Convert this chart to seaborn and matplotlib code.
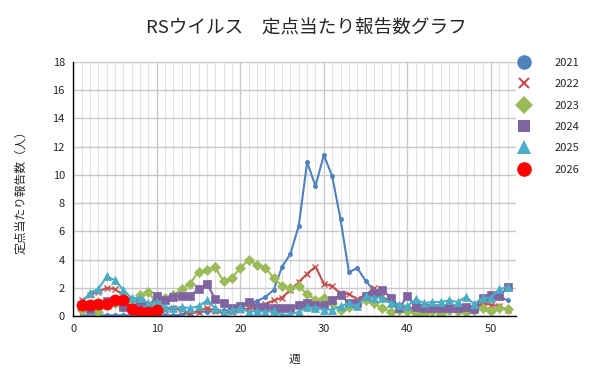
import numpy as np
import pandas as pd
import matplotlib
matplotlib.use('Agg')
import matplotlib.pyplot as plt
from matplotlib.lines import Line2D
from matplotlib.ticker import MultipleLocator
import seaborn as sns

weeks = list(range(1, 53))
weeks_2026 = list(range(1, 11))

y2021 = [0.05, 0.05, 0.05, 0.05, 0.05, 0.05, 0.05, 0.05, 0.05, 0.05, 0.05, 0.05, 0.1, 0.2, 0.3, 0.3,
         0.35, 0.4, 0.4, 0.7, 0.9, 1.05, 1.35, 1.85, 3.5, 4.4, 6.4, 10.9, 9.2, 11.4, 9.9, 6.85,
         3.1, 3.4, 2.5, 1.8, 1.3, 1.1, 0.8, 0.6, 0.5, 0.4, 0.4, 0.3, 0.3, 0.3, 0.35, 0.3,
         0.8, 1.2, 1.4, 1.1]
y2022 = [1.1, 1.5, 1.7, 2.0, 1.9, 1.5, 1.1, 0.8, 0.65, 0.55, 0.45, 0.55, 0.4, 0.2, 0.3, 0.6,
         0.35, 0.2, 0.3, 0.4, 0.55, 0.55, 0.85, 1.1, 1.3, 1.85, 2.4, 3.0, 3.5, 2.3, 2.1, 1.6,
         1.55, 1.2, 1.5, 1.95, 1.4, 0.9, 0.7, 0.6, 0.5, 0.5, 0.5, 0.6, 0.5, 0.5, 0.5, 0.6,
         0.9, 0.8, 0.7, 0.4]
y2023 = [0.4, 0.4, 0.3, 0.8, 0.9, 0.65, 1.0, 1.5, 1.7, 0.9, 1.25, 1.5, 1.9, 2.3, 3.15, 3.25,
         3.45, 2.45, 2.7, 3.4, 4.0, 3.6, 3.4, 2.7, 2.15, 2.0, 2.1, 1.55, 1.15, 1.3, 0.9, 0.4,
         0.65, 0.9, 1.15, 0.9, 0.55, 0.3, 0.4, 0.35, 0.2, 0.17, 0.35, 0.17, 0.4, 0.35, 0.3, 0.4,
         0.6, 0.35, 0.6, 0.5]
y2024 = [0.7, 0.5, 0.8, 1.05, 1.1, 0.65, 0.6, 1.0, 0.7, 1.4, 1.1, 1.35, 1.4, 1.45, 1.9, 2.3,
         1.2, 0.9, 0.6, 0.7, 1.0, 0.65, 0.65, 0.6, 0.6, 0.55, 0.8, 0.9, 0.8, 0.8, 1.1, 1.5,
         0.9, 0.95, 1.45, 1.6, 1.85, 1.3, 0.55, 1.4, 0.65, 0.55, 0.6, 0.6, 0.55, 0.55, 0.65, 0.5,
         1.3, 1.5, 1.4, 2.05]
y2025 = [0.9, 1.65, 1.9, 2.8, 2.55, 1.85, 1.25, 1.3, 0.9, 1.0, 0.65, 0.55, 0.65, 0.55, 0.7, 1.1,
         0.55, 0.3, 0.4, 0.55, 0.3, 0.35, 0.3, 0.35, 0.07, 0.12, 0.3, 0.65, 0.6, 0.45, 0.45, 0.7,
         0.9, 0.7, 1.4, 1.3, 1.3, 0.9, 0.8, 0.7, 1.2, 0.9, 1.0, 1.0, 1.1, 1.0, 1.35, 0.85,
         1.3, 1.3, 1.9, 2.05]
y2026 = [0.8, 0.8, 0.85, 0.85, 1.1, 1.1, 0.5, 0.3, 0.3, 0.4]

years = ['2021', '2022', '2023', '2024', '2025', '2026']
colors = ['#4F81BD', '#C0504D', '#9BBB59', '#8064A2', '#4BACC6', '#FF0000']
markers = ['o', 'x', 'D', 's', '^', 'o']
msizes = [3, 5, 5.5, 5.5, 6, 8]
legend_sizes = [10.5, 6.5, 9, 8.5, 9.5, 10.5]

series = [(weeks, y2021), (weeks, y2022), (weeks, y2023), (weeks, y2024), (weeks, y2025), (weeks_2026, y2026)]

sns.set_style('white')
plt.rcParams['font.family'] = ['Noto Sans CJK JP', 'DejaVu Sans']

fig = plt.figure(figsize=(6, 3.84), dpi=100)
ax = fig.add_axes([0.122, 0.177, 0.738, 0.662])

for (x, y), yr, c, m, ms in zip(series, years, colors, markers, msizes):
    df = pd.DataFrame({'week': x, 'value': y})
    sns.lineplot(data=df, x='week', y='value', ax=ax, color=c, marker=m, markersize=ms,
                 markeredgecolor=c, markeredgewidth=1 if m == 'x' else 0.5, linewidth=1.5,
                 legend=False)

ax.set_xlim(0, 53)
ax.set_ylim(0, 18)
ax.xaxis.set_major_locator(MultipleLocator(10))
ax.xaxis.set_minor_locator(MultipleLocator(1))
ax.yaxis.set_major_locator(MultipleLocator(2))
ax.grid(which='major', color='#c8c8c8', linewidth=1)
ax.grid(which='minor', axis='x', color='#e2e2e2', linewidth=0.8)
ax.set_axisbelow(True)
for s in ['top', 'right']:
    ax.spines[s].set_visible(False)
for s in ['left', 'bottom']:
    ax.spines[s].set_color('black')
    ax.spines[s].set_linewidth(1)
ax.tick_params(axis='both', which='both', length=0, labelsize=8, pad=6)

ax.set_xlabel('週', fontsize=8.5, labelpad=13)
ax.set_ylabel('定点当たり報告数（人）', fontsize=8.5, labelpad=18)
fig.suptitle('RSウイルス\u3000定点当たり報告数グラフ', x=0.51, y=0.95, fontsize=13.4)

handles = [Line2D([], [], linestyle='none', marker=m, color=c, markersize=s,
                  markeredgewidth=1.5 if m == 'x' else 0)
           for m, c, s in zip(markers, colors, legend_sizes)]
fig.legend(handles, years, loc='upper left', bbox_to_anchor=(0.838, 0.875), frameon=False,
           fontsize=8, labelspacing=1.02, handletextpad=1.8)

fig.savefig('out.png', dpi=100)
